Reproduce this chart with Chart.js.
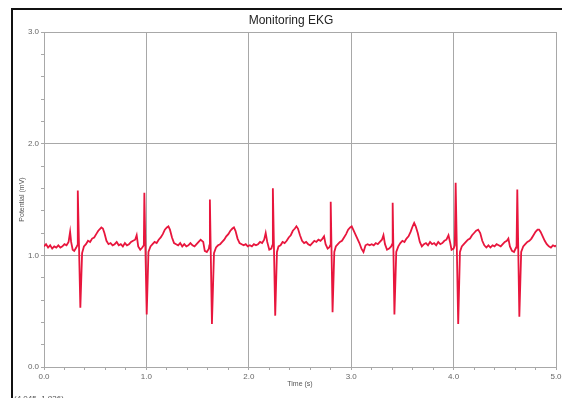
<!DOCTYPE html>
<html>
<head>
<meta charset="utf-8">
<script src="https://cdn.jsdelivr.net/npm/chart.js@4.4.1/dist/chart.umd.min.js"></script>
<style>
  body { margin: 0; background: #fff; }
  #wrap { position: relative; width: 562px; height: 398px; }
</style>
</head>
<body>
<div id="wrap"><canvas id="chart" width="562" height="398"></canvas></div>
<script>
// time in seconds
const times = [
    0.00, 0.02, 0.04, 0.06, 0.08, 0.10, 0.12, 0.14, 0.16, 0.18, 0.20, 0.22, 0.24, 0.255, 0.265, 0.28, 0.295, 0.315, 0.325,
    0.33, 0.355, 0.372, 0.39, 0.41, 0.43, 0.45, 0.47, 0.49, 0.51, 0.53, 0.55, 0.56, 0.575, 0.59, 0.61, 0.63, 0.65, 0.67,
    0.69, 0.71, 0.73, 0.75, 0.77, 0.79, 0.81, 0.83, 0.85, 0.87, 0.89, 0.905, 0.92, 0.94, 0.96, 0.975,
    0.98, 1.003, 1.02, 1.04, 1.06, 1.08, 1.10, 1.12, 1.14, 1.16, 1.18, 1.20, 1.215, 1.23, 1.25, 1.27, 1.29, 1.31, 1.33,
    1.35, 1.37, 1.39, 1.41, 1.43, 1.45, 1.47, 1.49, 1.51, 1.53, 1.555, 1.57, 1.59, 1.61, 1.615,
    1.62, 1.64, 1.66, 1.68, 1.70, 1.72, 1.74, 1.76, 1.78, 1.80, 1.82, 1.84, 1.855, 1.87, 1.89, 1.91, 1.93, 1.95, 1.97,
    1.99, 2.01, 2.03, 2.05, 2.07, 2.09, 2.11, 2.13, 2.15, 2.165, 2.18, 2.20, 2.22, 2.23,
    2.235, 2.258, 2.275, 2.29, 2.31, 2.33, 2.35, 2.37, 2.39, 2.41, 2.43, 2.45, 2.465, 2.48, 2.50, 2.52, 2.54, 2.56, 2.58,
    2.60, 2.62, 2.64, 2.66, 2.68, 2.70, 2.72, 2.735, 2.75, 2.77, 2.785, 2.795,
    2.80, 2.818, 2.835, 2.85, 2.87, 2.89, 2.91, 2.93, 2.95, 2.97, 2.99, 3.005, 3.02, 3.05, 3.08, 3.10, 3.12, 3.14, 3.16,
    3.18, 3.20, 3.22, 3.24, 3.26, 3.28, 3.30, 3.315, 3.33, 3.35, 3.37, 3.39, 3.40,
    3.405, 3.422, 3.44, 3.46, 3.48, 3.50, 3.52, 3.54, 3.56, 3.58, 3.60, 3.615, 3.63, 3.65, 3.67, 3.69, 3.71, 3.73, 3.75,
    3.77, 3.79, 3.81, 3.83, 3.85, 3.87, 3.89, 3.91, 3.93, 3.95, 3.965, 3.98, 4.00, 4.012,
    4.02, 4.045, 4.062, 4.08, 4.10, 4.12, 4.14, 4.16, 4.18, 4.20, 4.22, 4.24, 4.26, 4.28, 4.30, 4.32, 4.34, 4.36, 4.38,
    4.40, 4.42, 4.44, 4.46, 4.48, 4.50, 4.52, 4.535, 4.55, 4.57, 4.59, 4.61, 4.615,
    4.622, 4.642, 4.66, 4.68, 4.70, 4.72, 4.74, 4.76, 4.78, 4.80, 4.82, 4.835, 4.85, 4.87, 4.89, 4.91, 4.93, 4.95, 4.97,
    4.99, 5.00
];

// potential in mV, same order as times
const potential = [
    1.08, 1.10, 1.07, 1.09, 1.06, 1.08, 1.07, 1.09, 1.07, 1.08, 1.10, 1.09, 1.12, 1.21, 1.12, 1.05, 1.04, 1.07, 1.09,
    1.58, 0.53, 1.02, 1.08, 1.10, 1.13, 1.12, 1.15, 1.16, 1.19, 1.22, 1.24, 1.25, 1.24, 1.20, 1.13, 1.10, 1.11, 1.09,
    1.10, 1.12, 1.09, 1.10, 1.08, 1.11, 1.09, 1.10, 1.12, 1.13, 1.14, 1.18, 1.08, 1.05, 1.07, 1.09,
    1.56, 0.47, 1.03, 1.08, 1.10, 1.12, 1.11, 1.14, 1.16, 1.19, 1.23, 1.25, 1.26, 1.23, 1.16, 1.11, 1.10, 1.09, 1.11,
    1.08, 1.10, 1.08, 1.09, 1.11, 1.09, 1.08, 1.10, 1.12, 1.14, 1.12, 1.04, 1.03, 1.06, 1.09,
    1.50, 0.385, 1.02, 1.07, 1.09, 1.10, 1.12, 1.14, 1.17, 1.19, 1.22, 1.24, 1.25, 1.22, 1.15, 1.11, 1.10, 1.09, 1.10,
    1.08, 1.09, 1.08, 1.10, 1.09, 1.10, 1.12, 1.11, 1.14, 1.20, 1.12, 1.05, 1.06, 1.09,
    1.60, 0.46, 1.03, 1.08, 1.09, 1.12, 1.11, 1.13, 1.16, 1.18, 1.22, 1.24, 1.26, 1.24, 1.18, 1.13, 1.11, 1.12, 1.10,
    1.09, 1.11, 1.13, 1.12, 1.14, 1.13, 1.15, 1.17, 1.10, 1.06, 1.07, 1.09,
    1.48, 0.49, 1.03, 1.08, 1.10, 1.12, 1.13, 1.16, 1.19, 1.23, 1.25, 1.26, 1.23, 1.17, 1.11, 1.06, 1.03, 1.09, 1.10,
    1.09, 1.10, 1.09, 1.11, 1.10, 1.12, 1.14, 1.18, 1.10, 1.05, 1.06, 1.08, 1.10,
    1.47, 0.47, 1.03, 1.08, 1.11, 1.13, 1.12, 1.15, 1.17, 1.21, 1.26, 1.29, 1.26, 1.20, 1.12, 1.08, 1.10, 1.11, 1.09,
    1.12, 1.10, 1.11, 1.09, 1.12, 1.10, 1.11, 1.13, 1.14, 1.18, 1.12, 1.05, 1.06, 1.09,
    1.65, 0.385, 1.03, 1.08, 1.10, 1.12, 1.14, 1.15, 1.18, 1.20, 1.22, 1.23, 1.20, 1.13, 1.09, 1.07, 1.09, 1.07, 1.09,
    1.08, 1.10, 1.09, 1.08, 1.10, 1.12, 1.13, 1.15, 1.08, 1.04, 1.03, 1.07, 1.09,
    1.59, 0.45, 1.03, 1.08, 1.10, 1.12, 1.13, 1.15, 1.18, 1.21, 1.23, 1.23, 1.21, 1.17, 1.13, 1.10, 1.08, 1.07, 1.09,
    1.08, 1.09
];

const chartTitle = 'Monitoring EKG';
const cursorText = '(4.045, 1.836)';

const points = [];
for (let i = 0; i < times.length; i++) {
    points.push({ x: times[i], y: potential[i] });
}

const isMajor = (v) => Math.abs(v - Math.round(v)) < 1e-6;

// frame, title and cursor readout
const decor = {
    id: 'decor',
    beforeDraw(chart) {
        const c = chart.ctx;
        c.save();
        c.fillStyle = '#fff';
        c.fillRect(0, 0, chart.width, chart.height);
        c.fillStyle = '#111';
        c.fillRect(11, 8, 2, chart.height - 8);
        c.fillRect(11, 8, chart.width - 11, 2);
        c.restore();
    },
    afterDraw(chart) {
        const c = chart.ctx;
        c.save();
        c.fillStyle = '#222';
        c.font = '12px "Liberation Sans", Arial, sans-serif';
        c.textAlign = 'center';
        c.textBaseline = 'middle';
        c.fillText(chartTitle, 291, 21);
        c.font = '8px "Liberation Sans", Arial, sans-serif';
        c.fillStyle = '#555';
        c.textAlign = 'left';
        c.textBaseline = 'alphabetic';
        c.fillText(cursorText, 14, 401);
        c.restore();
    }
};

const ctx = document.getElementById('chart').getContext('2d');

const chart = new Chart(ctx, {
    type: 'line',
    data: {
        datasets: [{
            label: 'Potential',
            data: points,
            borderColor: '#e8163d',
            borderWidth: 1.8,
            pointRadius: 0,
            tension: 0,
            fill: false
        }]
    },
    options: {
        responsive: false,
        animation: false,
        layout: { padding: { left: 0, right: 6, top: 32, bottom: 0 } },
        plugins: {
            legend: { display: false },
            title: { display: false },
            tooltip: { enabled: false }
        },
        scales: {
            x: {
                type: 'linear',
                min: 0,
                max: 5,
                afterFit(scale) {
                    scale.height = 31;
                    scale.paddingLeft = 0;
                    scale.paddingRight = 0;
                },
                ticks: {
                    stepSize: 0.2,
                    autoSkip: false,
                    maxRotation: 0,
                    padding: 2,
                    color: '#666',
                    font: { size: 8, family: '"Liberation Sans", Arial, sans-serif' },
                    callback: (v) => isMajor(v) ? v.toFixed(1) : ''
                },
                grid: {
                    color: (c) => isMajor(c.tick.value) ? '#a8a8a8' : 'rgba(0,0,0,0)',
                    tickColor: '#a8a8a8',
                    tickLength: 3,
                    lineWidth: 1
                },
                border: { color: '#a8a8a8' },
                title: {
                    display: true,
                    text: 'Time (s)',
                    color: '#555',
                    padding: { top: 0, bottom: 10 },
                    font: { size: 7, family: '"Liberation Sans", Arial, sans-serif' }
                }
            },
            y: {
                min: 0,
                max: 3,
                afterFit(scale) {
                    scale.width = 44;
                    scale.paddingTop = 0;
                    scale.paddingBottom = 0;
                },
                ticks: {
                    stepSize: 0.2,
                    autoSkip: false,
                    padding: 2,
                    color: '#666',
                    font: { size: 8, family: '"Liberation Sans", Arial, sans-serif' },
                    callback: (v) => isMajor(v) ? v.toFixed(1) : ''
                },
                grid: {
                    color: (c) => isMajor(c.tick.value) ? '#a8a8a8' : 'rgba(0,0,0,0)',
                    tickColor: '#a8a8a8',
                    tickLength: 3,
                    lineWidth: 1
                },
                border: { color: '#a8a8a8' },
                title: {
                    display: true,
                    text: 'Potential (mV)',
                    color: '#555',
                    padding: { top: 18, bottom: 0 },
                    font: { size: 7, family: '"Liberation Sans", Arial, sans-serif' }
                }
            }
        }
    },
    plugins: [decor]
});
</script>
</body>
</html>
